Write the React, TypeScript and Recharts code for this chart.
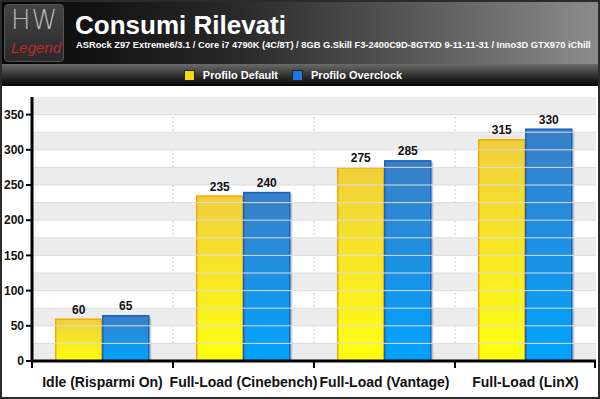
import { BarChart, Bar, XAxis, YAxis, CartesianGrid, ReferenceArea, ReferenceLine, LabelList } from 'recharts';

const categories = ['Idle (Risparmi On)', 'Full-Load (Cinebench)', 'Full-Load (Vantage)', 'Full-Load (LinX)'];
const profiloDefault = [60, 235, 275, 315];
const profiloOverclock = [65, 240, 285, 330];
const yTicks = [0, 50, 100, 150, 200, 250, 300, 350];
const gridSteps = [25, 75, 125, 175, 225, 275, 325];

const chartData = categories.map((name, i) => ({
  name,
  def: profiloDefault[i],
  oc: profiloOverclock[i],
}));

const FONT = '"Liberation Sans", Arial, sans-serif';
const CHART_W = 596;
const CHART_H = 311;
const LEFT = 30;
const RIGHT = 2;
const PLOT_W = CHART_W - LEFT - RIGHT;
const STEP = PLOT_W / categories.length;

function ShadowBar(props: any) {
  const { x, y, width, height, fill, stroke } = props;
  if (height <= 0) return null;
  return (
    <g>
      <rect x={x + 2} y={y + 2} width={width} height={height - 2} fill="#000" fillOpacity={0.18} />
      <rect x={x + 0.5} y={y + 0.5} width={width - 1} height={height - 0.5} fill={fill} stroke={stroke} strokeWidth={1.5} />
    </g>
  );
}

function CategoryTick(props: any) {
  const { x, y, payload, index } = props;
  const left = x - STEP / 2;
  return (
    <g>
      <line x1={left} y1={y - 8} x2={left} y2={y - 1} stroke="#000" strokeWidth={2} />
      {index === categories.length - 1 && (
        <line x1={x + STEP / 2 - 1} y1={y - 8} x2={x + STEP / 2 - 1} y2={y - 1} stroke="#000" strokeWidth={2} />
      )}
      <text x={x} y={y + 18} textAnchor="middle" fontFamily={FONT} fontWeight="bold" fontSize={14} fill="#111">
        {payload.value}
      </text>
    </g>
  );
}

function LegendItem({ color, label }: { color: string; label: string }) {
  return (
    <div style={{ display: 'flex', alignItems: 'center', marginRight: 14 }}>
      <div style={{ width: 9, height: 9, background: color, border: '1px solid #222', marginRight: 8 }} />
      <span style={{ color: '#fff', fontWeight: 'bold', fontSize: 11 }}>{label}</span>
    </div>
  );
}

export default function App() {
  return (
    <div
      style={{
        position: 'absolute',
        top: 0,
        left: 0,
        width: 600,
        height: 399,
        boxSizing: 'border-box',
        border: '2px solid #2b2b2b',
        background: '#fff',
        fontFamily: FONT,
        overflow: 'hidden',
      }}
    >
      <div
        style={{
          position: 'relative',
          height: 62,
          background: 'linear-gradient(to right, #050505 0%, #2a2a2a 40%, #5a5a5a 70%, #8c8c8c 100%)',
        }}
      >
        <div
          style={{
            position: 'absolute',
            left: 2,
            top: 2,
            width: 60,
            height: 58,
            borderRadius: 4,
            background: 'linear-gradient(#444, #2a2a2a)',
            border: '1px solid #555',
            boxSizing: 'border-box',
          }}
        >
          <div style={{ position: 'absolute', left: 6, top: 0, color: '#bbb', fontSize: 26, fontWeight: 300, letterSpacing: 1, fontFamily: '"DejaVu Sans", sans-serif' }}>
            HW
          </div>
          <div style={{ position: 'absolute', left: 6, top: 34, color: '#c0282a', fontSize: 15, fontStyle: 'italic' }}>
            Legend
          </div>
        </div>
        <div style={{ position: 'absolute', left: 73, top: 8, color: '#fff', fontSize: 26, fontWeight: 'bold' }}>
          Consumi Rilevati
        </div>
        <div style={{ position: 'absolute', left: 74, top: 38, color: '#fff', fontSize: 9.3, fontWeight: 'bold', whiteSpace: 'nowrap' }}>
          ASRock Z97 Extreme6/3.1 / Core i7 4790K (4C/8T) / 8GB G.Skill F3-2400C9D-8GTXD 9-11-11-31 / Inno3D GTX970 iChill
        </div>
      </div>
      <div
        style={{
          height: 22,
          background: 'linear-gradient(#6a6a6a, #2a2a2a 60%, #050505)',
          display: 'flex',
          alignItems: 'center',
          justifyContent: 'center',
        }}
      >
        <LegendItem color="#f2dc10" label="Profilo Default" />
        <LegendItem color="#1a78e0" label="Profilo Overclock" />
      </div>
      <BarChart
        width={CHART_W}
        height={CHART_H}
        data={chartData}
        margin={{ top: 11, right: RIGHT, left: 0, bottom: 0 }}
        barCategoryGap="16.5%"
        barGap={0}
      >
        <defs>
          <linearGradient id="gYellow" x1="0" y1="0" x2="0" y2="1">
            <stop offset="0%" stopColor="#f0cf3c" />
            <stop offset="100%" stopColor="#ffff10" />
          </linearGradient>
          <linearGradient id="gBlue" x1="0" y1="0" x2="0" y2="1">
            <stop offset="0%" stopColor="#3a7fc6" />
            <stop offset="100%" stopColor="#00a3ff" />
          </linearGradient>
        </defs>
        {yTicks.map((t) => (
          <ReferenceArea key={t} y1={t} y2={t + 25} fill="#ececec" fillOpacity={1} stroke="none" ifOverflow="extendDomain" />
        ))}
        {gridSteps.map((t) => (
          <ReferenceLine key={t} y={t} stroke="#dddddd" strokeWidth={1} />
        ))}
        <CartesianGrid
          horizontal={false}
          stroke="#c8c8c8"
          strokeDasharray="2 2"
          verticalCoordinatesGenerator={({ offset }: any) => [1, 2, 3].map((i) => offset.left + i * STEP)}
        />
        {yTicks.slice(1).map((t) => (
          <ReferenceLine key={'h' + t} y={t} stroke="#dddddd" strokeWidth={1} />
        ))}
        <XAxis
          dataKey="name"
          height={36}
          axisLine={{ stroke: '#000', strokeWidth: 3 }}
          tickLine={false}
          tick={<CategoryTick />}
          interval={0}
        />
        <YAxis
          width={LEFT}
          domain={[0, 375]}
          ticks={yTicks}
          allowDataOverflow
          axisLine={{ stroke: '#000', strokeWidth: 3 }}
          tickLine={{ stroke: '#000', strokeWidth: 2 }}
          tickSize={6}
          tick={{ fontFamily: FONT, fontWeight: 'bold', fontSize: 12, fill: '#111' }}
        />
        <Bar dataKey="def" fill="url(#gYellow)" stroke="#f4a800" shape={<ShadowBar />} isAnimationActive={false}>
          <LabelList dataKey="def" position="top" offset={5} style={{ fontFamily: FONT, fontWeight: 'bold', fontSize: 12, fill: '#111' }} />
        </Bar>
        <Bar dataKey="oc" fill="url(#gBlue)" stroke="#1464c4" shape={<ShadowBar />} isAnimationActive={false}>
          <LabelList dataKey="oc" position="top" offset={5} style={{ fontFamily: FONT, fontWeight: 'bold', fontSize: 12, fill: '#111' }} />
        </Bar>
      </BarChart>
    </div>
  );
}
